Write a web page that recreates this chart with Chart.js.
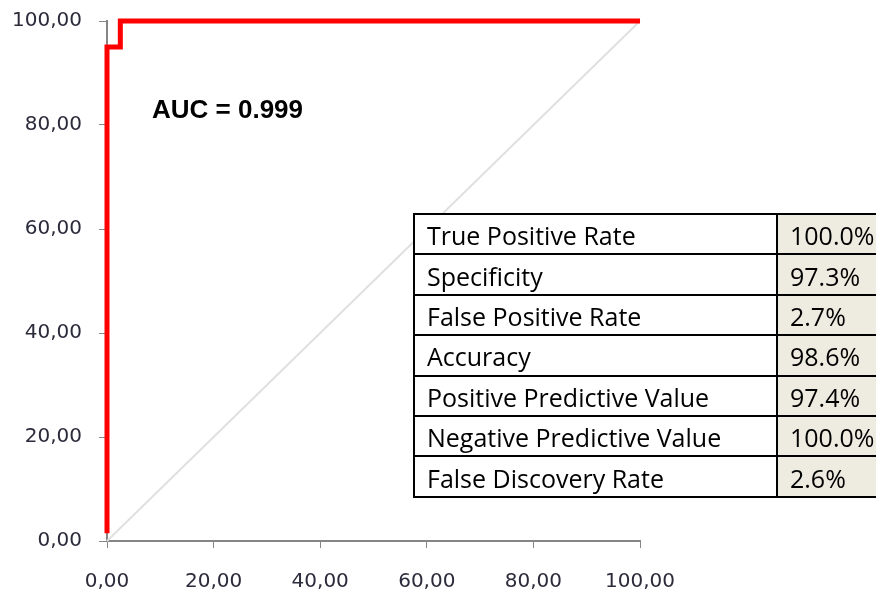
<!DOCTYPE html>
<html>
<head>
<meta charset="utf-8">
<script src="https://cdn.jsdelivr.net/npm/chart.js@4"></script>
<style>
  body { margin: 0; background: #fff; overflow: hidden; }
  #wrap { position: relative; width: 876px; height: 594px; overflow: hidden; }
  #auc {
    position: absolute; left: 152px; top: 94px;
    font: bold 26px "Liberation Sans", Arial, sans-serif; color: #000;
  }
  #stats {
    position: absolute; left: 413px; top: 213px; width: 480px;
    border-collapse: collapse;
    font: 25px "Open Sans", sans-serif; color: #000;
  }
  #stats td { border: 2px solid #000; height: 40.4px; padding: 3px 0 0 12px; box-sizing: border-box; white-space: nowrap; line-height: 1; }
  #stats td.name { width: 363px; background: #fff; }
  #stats td.val { background: #EEECE1; }
</style>
</head>
<body>
<div id="wrap">
  <canvas id="roc-chart"></canvas>
  <div id="auc"></div>
  <table id="stats"></table>
</div>
<script>
// ROC curve points (false positive rate %, true positive rate %)
const rocFpr = [0, 0, 2.5, 2.5, 100];
const rocTpr = [1.5, 95, 95, 100, 100];

// reference diagonal
const refX = [0, 100];
const refY = [0, 100];

const aucValue = '0.999';

// table
const statNames = ['True Positive Rate', 'Specificity', 'False Positive Rate', 'Accuracy',
  'Positive Predictive Value', 'Negative Predictive Value', 'False Discovery Rate'];
const statValues = ['100.0%', '97.3%', '2.7%', '98.6%', '97.4%', '100.0%', '2.6%'];

document.getElementById('auc').textContent = `AUC = ${aucValue}`;

const statsTable = document.getElementById('stats');
for (let i = 0; i < statNames.length; i++) {
  statsTable.insertAdjacentHTML('beforeend',
    `<tr><td class="name">${statNames[i]}</td><td class="val">${statValues[i]}</td></tr>`);
}

const fmt = v => v.toFixed(2).replace('.', ',');
const axisGrey = '#868686';
const tickFont = { family: 'DejaVu Sans', size: 20 };

let rocChart = new Chart(document.getElementById('roc-chart'), {
  type: 'scatter',
  data: {
    datasets: [{
      data: rocFpr.map((x, i) => ({ x: x, y: rocTpr[i] })),
      showLine: true,
      borderColor: '#ff0000',
      borderWidth: 5,
      pointRadius: 0,
      borderJoinStyle: 'miter',
      clip: false
    }, {
      data: refX.map((x, i) => ({ x: x, y: refY[i] })),
      showLine: true,
      borderColor: '#e0e0e0',
      borderWidth: 2,
      pointRadius: 0,
      clip: false
    }]
  },
  options: {
    responsive: true,
    maintainAspectRatio: false,
    animation: false,
    layout: { padding: { top: 21, right: 236, left: 0, bottom: 0 } },
    scales: {
      x: {
        type: 'linear',
        min: 0,
        max: 100,
        afterFit: s => { s.height = 53; s.paddingLeft = 0; s.paddingRight = 0; },
        ticks: { stepSize: 20, callback: fmt, color: '#2b2b3b', font: tickFont, padding: 22, maxRotation: 0 },
        grid: { drawOnChartArea: false, color: axisGrey, tickLength: 7 },
        border: { color: axisGrey, width: 2 }
      },
      y: {
        min: 0,
        max: 100,
        afterFit: s => { s.width = 107; s.paddingTop = 0; s.paddingBottom = 0; },
        ticks: { stepSize: 20, callback: fmt, color: '#2b2b3b', font: tickFont, padding: 17 },
        grid: { drawOnChartArea: false, color: axisGrey, tickLength: 8 },
        border: { color: axisGrey, width: 2 }
      }
    },
    plugins: {
      legend: { display: false },
      tooltip: { enabled: false }
    }
  }
});
</script>
</body>
</html>
